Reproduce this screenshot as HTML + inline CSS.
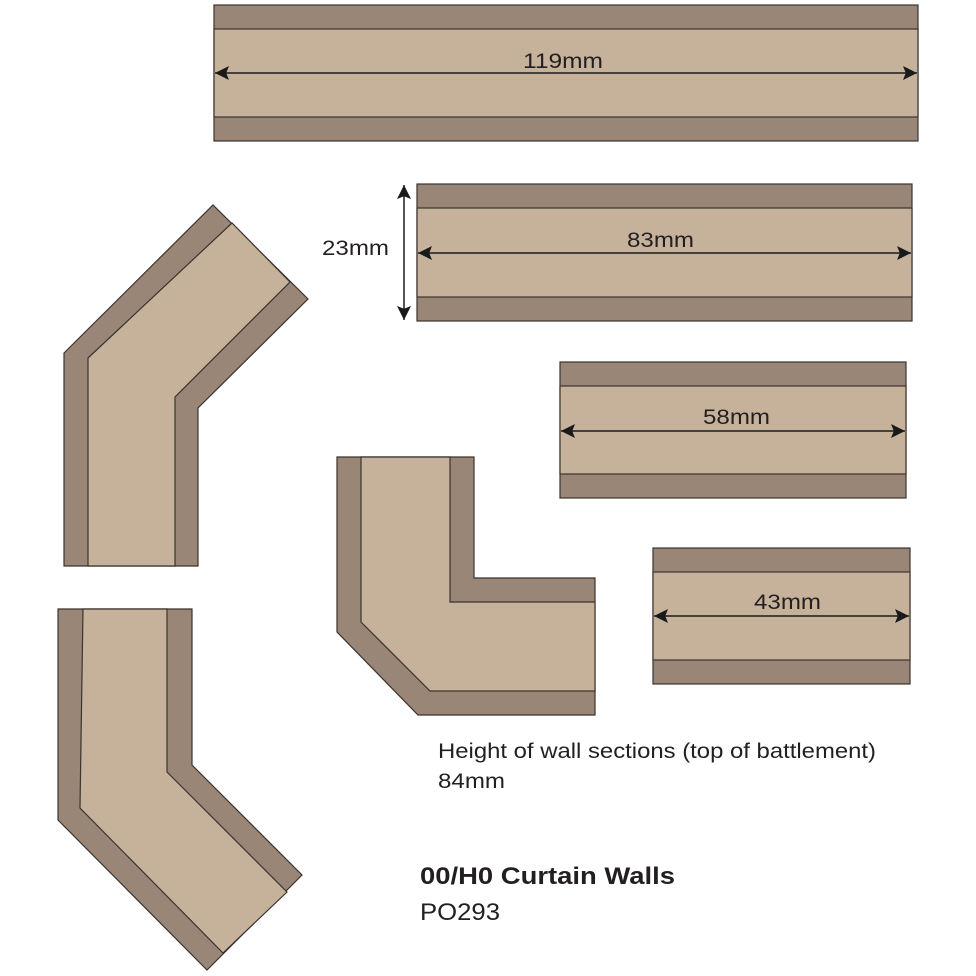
<!DOCTYPE html>
<html><head><style>body{margin:0;background:#fff}svg{display:block}</style></head><body>
<svg width="976" height="976" viewBox="0 0 976 976" xmlns="http://www.w3.org/2000/svg" font-family="Liberation Sans, sans-serif">
<defs><marker id="a" viewBox="0 0 10 10" refX="10" refY="5" markerWidth="16" markerHeight="14" orient="auto-start-reverse" markerUnits="userSpaceOnUse"><path d="M0,0 L10,5 L0,10 L2,5z" fill="#1a1a1a"/></marker></defs>
<g stroke="#3a332e" stroke-width="1.2">
<rect x="214" y="5" width="704" height="136" fill="#9a8676"/><rect x="214" y="29" width="704" height="88" fill="#c6b29b"/>
<rect x="417" y="184" width="495" height="137" fill="#9a8676"/><rect x="417" y="208" width="495" height="89" fill="#c6b29b"/>
<rect x="560" y="362" width="346" height="136" fill="#9a8676"/><rect x="560" y="386" width="346" height="88" fill="#c6b29b"/>
<rect x="653" y="548" width="257" height="136" fill="#9a8676"/><rect x="653" y="572" width="257" height="88" fill="#c6b29b"/>
<polygon points="64,353 213,205 308,299 198,408 198,566 64,566" fill="#9a8676"/>
<polygon points="88,358 232,223 290,282 175,397 175,566 88,566" fill="#c6b29b"/>
<polygon points="58,609 192,609 192,765 302,875 207,970 58,820" fill="#9a8676"/>
<polygon points="83,609 167,609 167,772 287,892 223,953 80,808" fill="#c6b29b"/>
<polygon points="337,457 474,457 474,578 595,578 595,715 418,715 337,632" fill="#9a8676"/>
<polygon points="361,457 450,457 450,602 595,602 595,691 430,691 361,622" fill="#c6b29b"/>
</g>
<g stroke="#1a1a1a" stroke-width="1.5" marker-start="url(#a)" marker-end="url(#a)">
<line x1="215" y1="73" x2="917" y2="73"/>
<line x1="418" y1="253" x2="911" y2="253"/>
<line x1="561" y1="431" x2="905" y2="431"/>
<line x1="654" y1="616" x2="909" y2="616"/>
<line x1="404" y1="185" x2="404" y2="320"/>
</g>
<g font-size="21" fill="#231f20" lengthAdjust="spacingAndGlyphs">
<text x="523" y="68" textLength="80" lengthAdjust="spacingAndGlyphs">119mm</text><text x="627" y="247" textLength="67" lengthAdjust="spacingAndGlyphs">83mm</text><text x="703" y="424" textLength="67" lengthAdjust="spacingAndGlyphs">58mm</text><text x="754" y="609" textLength="67" lengthAdjust="spacingAndGlyphs">43mm</text>
<text x="322" y="255" textLength="67" lengthAdjust="spacingAndGlyphs">23mm</text>
<text x="438" y="758" textLength="438" lengthAdjust="spacingAndGlyphs">Height of wall sections (top of battlement)</text>
<text x="438" y="788" textLength="67" lengthAdjust="spacingAndGlyphs">84mm</text>
<text x="420" y="884" font-weight="bold" font-size="24" textLength="255" lengthAdjust="spacingAndGlyphs">00/H0 Curtain Walls</text>
<text x="420" y="920" font-size="24" textLength="80" lengthAdjust="spacingAndGlyphs">PO293</text></g>
</svg></body></html>
